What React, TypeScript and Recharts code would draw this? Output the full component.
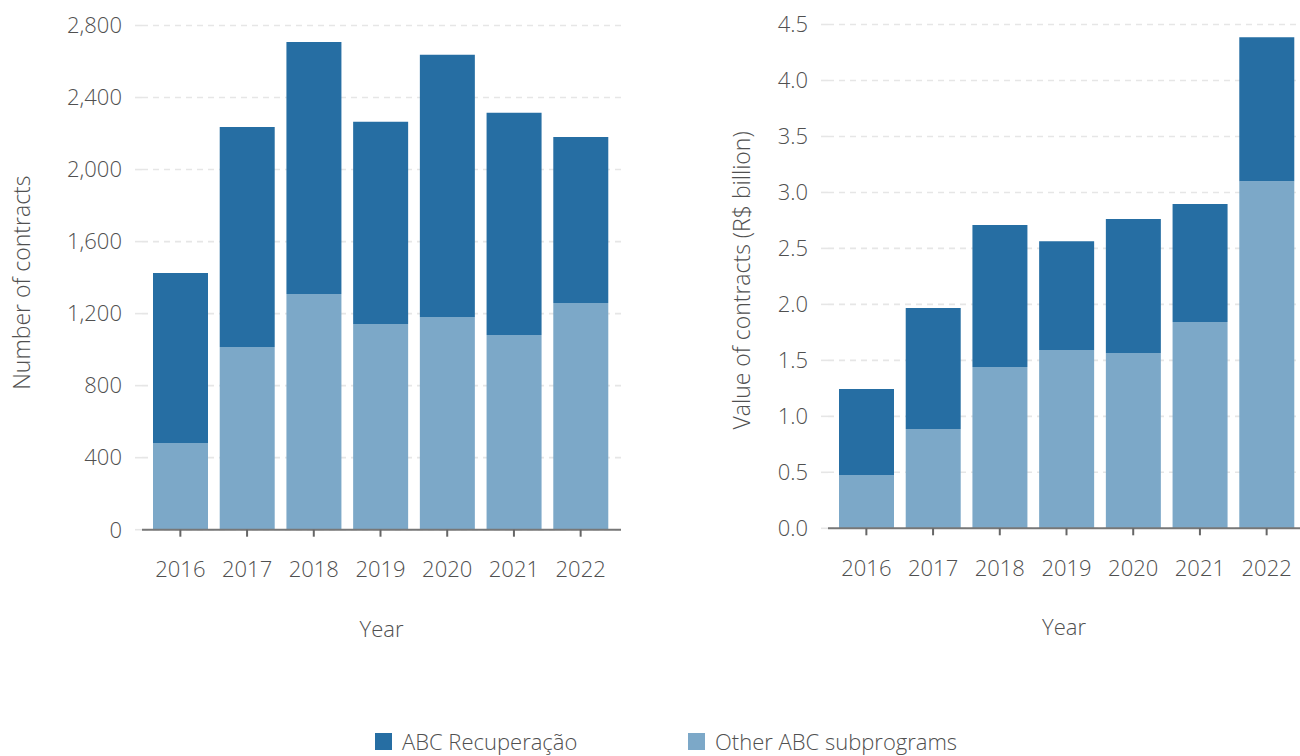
import React from "react";
import { Bar, BarChart, CartesianGrid, XAxis, YAxis } from "recharts";

const YEARS = ["2016", "2017", "2018", "2019", "2020", "2021", "2022"];

// number of contracts
const COUNT_OTHER = [481, 1015, 1309, 1143, 1181, 1081, 1259];
const COUNT_ABC = [945, 1222, 1400, 1122, 1456, 1234, 922];

// value of contracts, R$ billion
const VALUE_OTHER = [0.476, 0.887, 1.44, 1.592, 1.565, 1.842, 3.101];
const VALUE_ABC = [0.768, 1.08, 1.268, 0.973, 1.197, 1.054, 1.286];

const COUNT_TICKS = [0, 400, 800, 1200, 1600, 2000, 2400, 2800];
const VALUE_TICKS = [0, 0.5, 1, 1.5, 2, 2.5, 3, 3.5, 4, 4.5];

const SERIES_ABC = "ABC Recuperação";
const SERIES_OTHER = "Other ABC subprograms";

const DARK = "#266ea3";
const LIGHT = "#7ca8c8";
const TEXT = "#505050";
const FONT = "'Open Sans', sans-serif";

const countRows = YEARS.map((year, i) => ({ year, other: COUNT_OTHER[i], abc: COUNT_ABC[i] }));
const valueRows = YEARS.map((year, i) => ({ year, other: VALUE_OTHER[i], abc: VALUE_ABC[i] }));

const tickStyle = { fill: TEXT, fontSize: 22, fontFamily: FONT, fontWeight: 300 };

const yTitle = (text: string, x: number, dy: number) =>
  function YTitle(props: any) {
    const vb = props.viewBox || {};
    const cy = (vb.y ?? 0) + (vb.height ?? 0) / 2 + dy;
    return (
      <text
        x={x}
        y={cy}
        transform={`rotate(-90 ${x} ${cy})`}
        textAnchor="middle"
        dominantBaseline="central"
        fill={TEXT}
        fontSize={23}
        fontFamily={FONT}
        fontWeight={300}
      >
        {text}
      </text>
    );
  };

const xTitle = (props: any) => {
  const vb = props.viewBox || {};
  const cx = (vb.x ?? 0) + (vb.width ?? 0) / 2;
  const y = (vb.y ?? 0) + 107;
  return (
    <text x={cx} y={y} textAnchor="middle" fill={TEXT} fontSize={22} fontFamily={FONT} fontWeight={300}>
      Year
    </text>
  );
};

interface PanelProps {
  rows: typeof countRows;
  ticks: number[];
  domain: [number, number];
  format: (v: number) => string;
  title: string;
  titleX: number;
  titleDy: number;
  margin: { top: number; right: number; bottom: number; left: number };
  padRight: number;
  width: number;
}

function Panel({ rows, ticks, domain, format, title, titleX, titleDy, margin, padRight, width }: PanelProps) {
  return (
    <BarChart width={width} height={680} data={rows} margin={margin}>
      <CartesianGrid vertical={false} stroke="#e6e6e6" strokeWidth={1.6} strokeDasharray="6 5" />
      <XAxis
        dataKey="year"
        padding={{ left: 5, right: padRight }}
        height={110}
        axisLine={{ stroke: "#777777", strokeWidth: 2 }}
        tickLine={{ stroke: "#666666", strokeWidth: 2 }}
        tickSize={7}
        tickMargin={25}
        tick={tickStyle}
        label={{ content: xTitle }}
      />
      <YAxis
        width={60}
        domain={domain}
        ticks={ticks}
        interval={0}
        tickFormatter={format}
        axisLine={false}
        tickLine={{ stroke: "#e6e6e6", strokeWidth: 1.6 }}
        tickSize={7}
        tickMargin={13}
        tick={tickStyle}
        label={{ content: yTitle(title, titleX, titleDy) }}
      />
      <Bar dataKey="other" name={SERIES_OTHER} stackId="s" fill={LIGHT} barSize={55} isAnimationActive={false} />
      <Bar dataKey="abc" name={SERIES_ABC} stackId="s" fill={DARK} barSize={55} isAnimationActive={false} />
    </BarChart>
  );
}

const legendItems = [
  { name: SERIES_ABC, color: DARK, left: 375 },
  { name: SERIES_OTHER, color: LIGHT, left: 688 },
];

export default function App() {
  return (
    <div
      style={{
        position: "absolute",
        left: 0,
        top: 0,
        width: 1300,
        height: 756,
        overflow: "hidden",
        background: "#ffffff",
        fontFamily: FONT,
      }}
    >
      <div style={{ position: "absolute", left: 0, top: 0 }}>
        <Panel
          rows={countRows}
          ticks={COUNT_TICKS}
          domain={[0, 2800]}
          format={(v) => v.toLocaleString("en-US")}
          title="Number of contracts"
          titleX={21.5}
          titleDy={5}
          margin={{ top: 25.5, right: 19, bottom: 40.3, left: 82 }}
          padRight={7}
          width={640}
        />
      </div>
      <div style={{ position: "absolute", left: 690, top: 0 }}>
        <Panel
          rows={valueRows}
          ticks={VALUE_TICKS}
          domain={[0, 4.5]}
          format={(v) => v.toFixed(1)}
          title="Value of contracts (R$ billion)"
          titleX={51}
          titleDy={4}
          margin={{ top: 24.5, right: 0, bottom: 41.7, left: 78 }}
          padRight={0}
          width={610}
        />
      </div>
      {legendItems.map((item) => (
        <div
          key={item.name}
          style={{
            position: "absolute",
            left: item.left,
            top: 729,
            height: 24,
            lineHeight: "24px",
            display: "flex",
            alignItems: "center",
            color: TEXT,
            fontSize: 22,
            fontWeight: 300,
            whiteSpace: "nowrap",
          }}
        >
          <span style={{ width: 17, height: 17, background: item.color, marginRight: 10, display: "inline-block" }} />
          {item.name}
        </div>
      ))}
    </div>
  );
}
